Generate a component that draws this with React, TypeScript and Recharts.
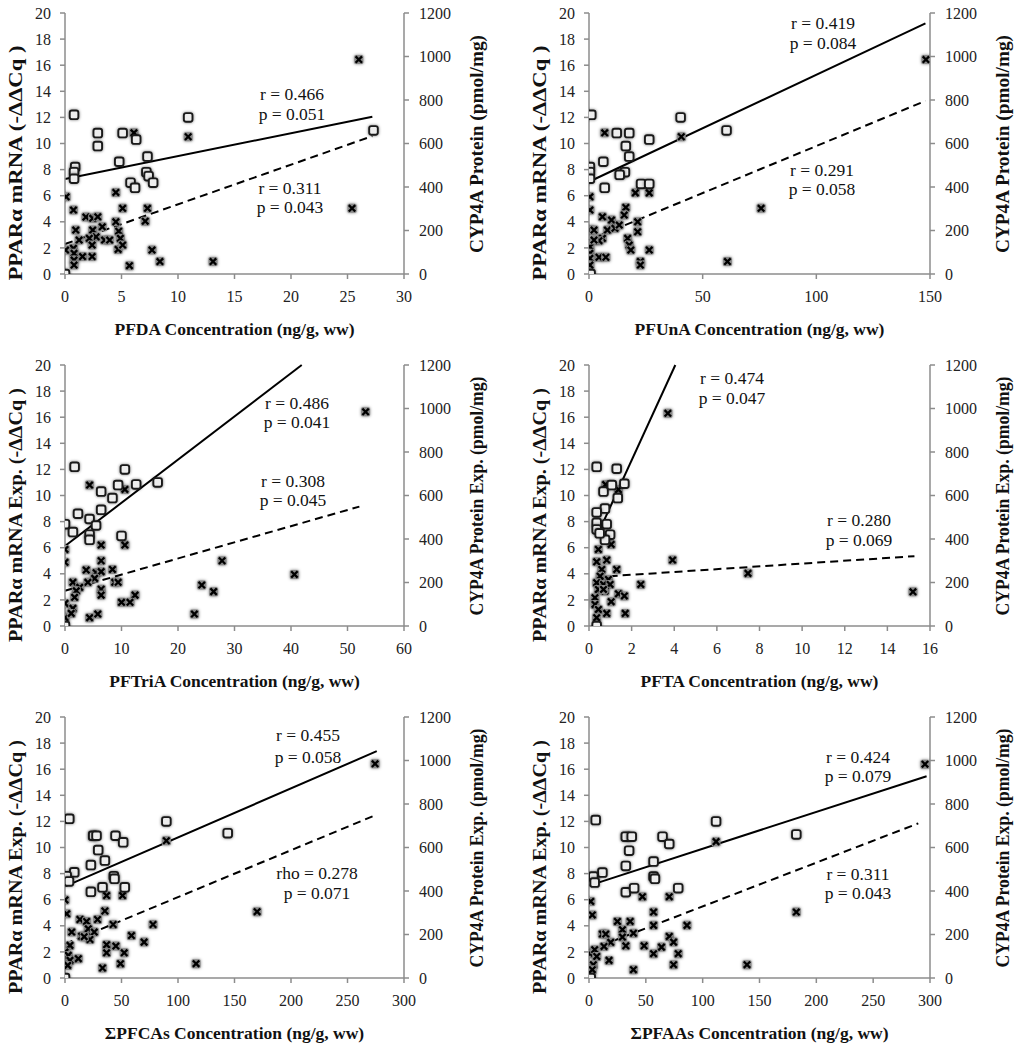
import { ScatterChart, Scatter, XAxis, YAxis, ReferenceLine, Label } from "recharts"

type Pt = [number, number]

// ---- data: [concentration, value] ----
const pfdaMrna: Pt[] = [[0, 0], [0.8, 12.2], [0.9, 8.2], [0.8, 7.8], [0.8, 7.3], [2.9, 10.8], [2.9, 9.8], [5.1, 10.8], [6.3, 10.3], [4.8, 8.6], [7.3, 9.0], [7.2, 7.8], [7.4, 7.5], [5.8, 7.0], [6.2, 6.6], [7.8, 7.0], [10.9, 12.0], [27.3, 11.0]]
const pfdaProtein: Pt[] = [[26.0, 986], [25.4, 302], [10.9, 631], [6.1, 649], [4.5, 375], [5.1, 302], [7.3, 302], [7.1, 243], [0.1, 355], [0.75, 294], [1.85, 262], [2.45, 256], [2.9, 263], [3.3, 217], [0.95, 202], [2.45, 202], [4.5, 240], [4.75, 197], [4.9, 164], [2.75, 171], [3.5, 156], [3.95, 156], [2.15, 164], [1.25, 156], [2.4, 133], [0.75, 118], [0.05, 110], [0.8, 95], [1.55, 80], [2.4, 80], [0.8, 64], [0.8, 41], [4.7, 113], [5.1, 133], [5.7, 38], [7.7, 110], [8.4, 57], [13.1, 57]]
const pfdaMrnaFit: Pt[] = [[0, 7.28], [27.2, 12.05]]
const pfdaProteinFit: Pt[] = [[0, 138], [27.2, 634]]

const pfunaMrna: Pt[] = [[1.0, 12.2], [0.4, 8.2], [0.4, 7.8], [0.4, 7.3], [0.7, 0], [6.3, 8.6], [6.9, 6.6], [12.2, 10.8], [17.7, 10.8], [16.2, 9.8], [17.7, 9.0], [15.8, 7.8], [13.5, 7.6], [22.9, 6.9], [26.5, 6.9], [26.5, 10.3], [40.3, 12.0], [60.5, 11.0]]
const pfunaProtein: Pt[] = [[148.2, 986], [75.7, 302], [60.9, 57], [40.6, 631], [6.9, 649], [13.7, 459], [20.4, 373], [26.5, 373], [0.4, 355], [0.4, 294], [16.2, 306], [15.5, 271], [5.9, 263], [9.9, 248], [21.4, 240], [0.4, 202], [2.2, 202], [8.1, 202], [11.4, 210], [13.3, 225], [21.4, 194], [5.9, 164], [4.4, 153], [17.0, 164], [17.7, 133], [18.4, 110], [26.5, 110], [0.4, 125], [0.4, 95], [4.4, 77], [7.4, 77], [0.4, 72], [0.4, 41], [22.6, 57], [22.6, 41], [2.2, 156]]
const pfunaMrnaFit: Pt[] = [[0, 7.07], [148, 19.2]]
const pfunaProteinFit: Pt[] = [[0, 156], [148, 796]]

const pftriaMrna: Pt[] = [[0, 0], [1.7, 12.2], [10.6, 12.0], [9.4, 10.8], [12.6, 10.85], [16.4, 11.0], [6.4, 10.3], [8.4, 9.8], [6.4, 8.9], [2.3, 8.6], [4.35, 8.2], [0, 7.8], [1.4, 7.2], [5.5, 7.7], [4.35, 7.0], [4.35, 6.6], [10.0, 6.9]]
const pftriaProtein: Pt[] = [[53.2, 985], [27.8, 300], [40.6, 237], [24.2, 188], [26.3, 158], [22.9, 55], [4.35, 648], [10.6, 628], [6.4, 372], [10.6, 372], [0, 352], [0, 293], [6.4, 300], [3.75, 257], [5.5, 245], [6.4, 250], [8.4, 260], [5.25, 219], [1.4, 201], [4.05, 201], [8.8, 201], [9.4, 201], [2.6, 178], [6.4, 169], [2.0, 162], [6.4, 142], [12.4, 142], [1.7, 132], [0, 104], [10.0, 109], [11.5, 109], [1.4, 81], [0, 38], [1.1, 58], [4.35, 38], [5.8, 55]]
const pftriaMrnaFit: Pt[] = [[0, 6.13], [41.9, 20]]
const pftriaProteinFit: Pt[] = [[0, 162], [52.1, 549]]

const pftaMrna: Pt[] = [[0.36, 0], [0.36, 12.2], [1.3, 12.05], [0.68, 10.3], [1.07, 10.8], [1.66, 10.9], [1.35, 9.8], [0.75, 9.0], [0.36, 8.7], [0.36, 7.9], [0.83, 7.8], [0.36, 7.4], [0.99, 7.0], [0.75, 6.6], [0.5, 7.1]]
const pftaProtein: Pt[] = [[3.7, 978], [3.92, 303], [7.46, 242], [15.2, 157], [2.43, 191], [0.78, 650], [1.38, 627], [0.44, 352], [1.04, 375], [0.36, 295], [0.83, 303], [1.3, 260], [0.6, 260], [0.52, 229], [0.91, 214], [0.36, 199], [0.68, 191], [0.99, 191], [0.44, 168], [0.75, 161], [1.38, 148], [1.66, 138], [0.28, 130], [1.04, 112], [0.28, 99], [0.44, 76], [0.83, 58], [1.7, 58], [0.36, 38], [0.68, 168]]
const pftaMrnaFit: Pt[] = [[0.4, 7.0], [4.05, 20]]
const pftaProteinFit: Pt[] = [[0.36, 225], [15.27, 321]]

const pfcasMrna: Pt[] = [[0, 0], [3.8, 12.2], [89.7, 12.0], [144, 11.1], [25, 10.9], [27.9, 10.9], [44.7, 10.9], [51.5, 10.4], [29.4, 9.8], [35.3, 9.0], [22.9, 8.65], [8.2, 8.1], [1.5, 7.8], [3.5, 7.4], [43.2, 7.8], [43.8, 7.6], [22.9, 6.6], [33.2, 6.95], [52.9, 6.95]]
const pfcasProtein: Pt[] = [[274.4, 985], [170, 305], [116, 66], [89.7, 631], [24.4, 653], [36.8, 379], [50.9, 379], [0, 359], [1.5, 295], [35.3, 308], [13.2, 269], [19.1, 260], [28.8, 269], [42.6, 246], [77.9, 246], [5.9, 211], [20.6, 226], [25.9, 211], [14.7, 192], [58.8, 195], [70, 165], [22.1, 177], [4.4, 150], [36.8, 153], [45, 147], [0, 119], [36.8, 116], [52.4, 116], [2.9, 104], [11.8, 89], [4.4, 81], [2.4, 58], [49.1, 66], [33.2, 46], [17, 190]]
const pfcasMrnaFit: Pt[] = [[0, 7.02], [275.9, 17.38]]
const pfcasProteinFit: Pt[] = [[0, 156], [273, 745]]

const pfaasMrna: Pt[] = [[1.5, 0], [5.9, 12.1], [111.8, 12.0], [182.4, 11.0], [32.4, 10.83], [37.6, 10.83], [64.7, 10.83], [70.6, 10.27], [35.3, 9.76], [56.8, 8.92], [32.4, 8.59], [11.8, 8.08], [3.8, 7.77], [5, 7.31], [56.8, 7.77], [58, 7.6], [32.4, 6.57], [39.7, 6.88], [78.5, 6.88]]
const pfaasProtein: Pt[] = [[295.6, 983], [182.4, 303], [139, 61], [111.8, 627], [32.4, 650], [47, 374], [70.6, 374], [1.5, 352], [2.9, 290], [56.8, 303], [25, 260], [36.2, 260], [56.8, 242], [86.2, 242], [11.8, 202], [14.7, 202], [29.4, 222], [39.1, 206], [70.6, 191], [74.4, 165], [29.4, 188], [32.4, 148], [19.1, 164], [48.5, 148], [13.2, 145], [63.8, 142], [0.9, 112], [5, 130], [56.8, 112], [78.5, 112], [6.8, 99], [17.6, 81], [3.8, 61], [39.1, 38], [74.4, 61], [2.9, 38]]
const pfaasMrnaFit: Pt[] = [[0, 7.08], [297, 15.46]]
const pfaasProteinFit: Pt[] = [[0, 128], [289.7, 711]]

const mrnaTicks = [0, 2, 4, 6, 8, 10, 12, 14, 16, 18, 20]
const proteinTicks = [0, 200, 400, 600, 800, 1000, 1200]

const serif = "'Liberation Serif', 'Times New Roman', serif"
const axisGray = '#8c8c8c'

const toObj = (pts: Pt[]) => pts.map(([x, y]) => ({ x, y }))

const SquareMark = (props: any) => {
    const { cx, cy } = props
    if (cx == null || cy == null) return null
    return (
        <rect x={cx - 4.3} y={cy - 4.3} width={8.6} height={8.6} rx={2.2}
            fill="#ededed" stroke="#1a1a1a" strokeWidth={1.9}
            style={{ filter: 'drop-shadow(0 0 1.5px rgba(0,0,0,0.55))' }} />
    )
}

const CrossMark = (props: any) => {
    const { cx, cy } = props
    if (cx == null || cy == null) return null
    return (
        <g style={{ filter: 'drop-shadow(0 0 1.5px rgba(0,0,0,0.5))' }}>
            <rect x={cx - 4.5} y={cy - 4.5} width={9} height={9} rx={1.5} fill="#8a8a8a" />
            <path d={`M${cx - 3.2},${cy - 3.2}L${cx + 3.2},${cy + 3.2}M${cx + 3.2},${cy - 3.2}L${cx - 3.2},${cy + 3.2}`}
                stroke="#000" strokeWidth={2.3} />
        </g>
    )
}

// tick labels drawn by hand so the serif face is certain
const XTick = (props: any) => (
    <text x={props.x} y={props.y} dy="0.71em" textAnchor="middle" fill="#222"
        fontSize={16} fontFamily={serif}>{props.payload.value}</text>
)
const YTick = (props: any) => (
    <text x={props.x} y={props.y} dy="0.35em" textAnchor={props.textAnchor} fill="#222"
        fontSize={16} fontFamily={serif}>{props.payload.value}</text>
)

type Note = { text: string; x: number; y: number }

type PanelProps = {
    left: number
    top: number
    leftAxisW: number
    rightAxisW: number
    xMax: number
    xTicks: number[]
    xTitle: string
    yTitle: string
    yTitleLen: number
    y2Title: string
    y2TitleLen: number
    mrna: Pt[]
    protein: Pt[]
    mrnaFit: Pt[]
    proteinFit: Pt[]
    notes: Note[]
}

const W = 509
const H = 346
const PLOT_TOP = 13
const X_AXIS_H = 72

const Panel = (p: PanelProps) => {
    const plotLeft = p.leftAxisW
    const plotRight = W - p.rightAxisW
    const plotBottom = H - X_AXIS_H
    const titles = () => (
        <g fontFamily={serif} fill="#111">
            <text x={(plotLeft + plotRight) / 2} y={plotBottom + 61} textAnchor="middle"
                fontSize={17.5} fontWeight="bold">{p.xTitle}</text>
            <text transform={`translate(${plotLeft - 49},${PLOT_TOP + 150}) rotate(-90)`} textAnchor="middle"
                dominantBaseline="central" fontSize={18} fontWeight="bold"
                textLength={p.yTitleLen} lengthAdjust="spacingAndGlyphs">{p.yTitle}</text>
            <text transform={`translate(${plotRight + 73},${PLOT_TOP + 131}) rotate(-90)`} textAnchor="middle"
                dominantBaseline="central" fontSize={18} fontWeight="bold"
                textLength={p.y2TitleLen} lengthAdjust="spacingAndGlyphs">{p.y2Title}</text>
            {p.notes.map((n, i) => (
                <text key={i} x={n.x} y={n.y} textAnchor="middle" fontSize={17.5}>{n.text}</text>
            ))}
        </g>
    )
    const line = { stroke: axisGray, strokeWidth: 1.5 }
    return (
        <div style={{ position: 'absolute', left: p.left, top: p.top }}>
            <ScatterChart width={W} height={H} margin={{ top: PLOT_TOP, right: 0, bottom: 0, left: 0 }}>
                <XAxis type="number" dataKey="x" domain={[0, p.xMax]} ticks={p.xTicks} allowDataOverflow
                    height={X_AXIS_H} tick={XTick} tickSize={5} tickMargin={12} axisLine={line} tickLine={line}>
                    <Label content={titles} />
                </XAxis>
                <YAxis yAxisId="mrna" type="number" dataKey="y" domain={[0, 20]} ticks={mrnaTicks} allowDataOverflow
                    width={p.leftAxisW} tick={YTick} tickSize={5} tickMargin={9} axisLine={line} tickLine={line} />
                <YAxis yAxisId="protein" orientation="right" type="number" dataKey="y" domain={[0, 1200]} ticks={proteinTicks}
                    allowDataOverflow width={p.rightAxisW} tick={YTick} tickSize={5} tickMargin={10} axisLine={line} tickLine={line} />
                <Scatter yAxisId="protein" data={toObj(p.protein)} shape={CrossMark} isAnimationActive={false} />
                <Scatter yAxisId="mrna" data={toObj(p.mrna)} shape={SquareMark} isAnimationActive={false} />
                <ReferenceLine yAxisId="mrna" segment={toObj(p.mrnaFit)} stroke="#000" strokeWidth={2} ifOverflow="visible" />
                <ReferenceLine yAxisId="protein" segment={toObj(p.proteinFit)} stroke="#000" strokeWidth={2}
                    strokeDasharray="8 5" ifOverflow="visible" />
            </ScatterChart>
        </div>
    )
}

const topY = 'PPARα mRNA (-ΔΔCq )'
const expY = 'PPARα mRNA Exp. (-ΔΔCq )'
const topY2 = 'CYP4A Protein (pmol/mg)'
const expY2 = 'CYP4A Protein Exp. (pmol/mg)'

export default function App() {
    return (
        <div style={{ position: 'absolute', left: 0, top: 0, width: 1018, height: 1050, overflow: 'hidden', background: '#fff' }}>
            <Panel left={0} top={0} leftAxisW={65} rightAxisW={105} xMax={30} xTicks={[0, 5, 10, 15, 20, 25, 30]}
                xTitle="PFDA Concentration (ng/g, ww)" yTitle={topY} yTitleLen={235} y2Title={topY2} y2TitleLen={218}
                mrna={pfdaMrna} protein={pfdaProtein} mrnaFit={pfdaMrnaFit} proteinFit={pfdaProteinFit}
                notes={[{ text: 'r = 0.466', x: 292, y: 100 }, { text: 'p = 0.051', x: 292, y: 120 },
                { text: 'r = 0.311', x: 290, y: 194 }, { text: 'p = 0.043', x: 290, y: 213 }]} />
            <Panel left={509} top={0} leftAxisW={80} rightAxisW={88} xMax={150} xTicks={[0, 50, 100, 150]}
                xTitle="PFUnA Concentration (ng/g, ww)" yTitle={topY} yTitleLen={235} y2Title={topY2} y2TitleLen={218}
                mrna={pfunaMrna} protein={pfunaProtein} mrnaFit={pfunaMrnaFit} proteinFit={pfunaProteinFit}
                notes={[{ text: 'r = 0.419', x: 314, y: 29 }, { text: 'p = 0.084', x: 314, y: 49 },
                { text: 'r = 0.291', x: 313, y: 176 }, { text: 'p = 0.058', x: 313, y: 195 }]} />
            <Panel left={0} top={352} leftAxisW={65} rightAxisW={105} xMax={60} xTicks={[0, 10, 20, 30, 40, 50, 60]}
                xTitle="PFTriA Concentration (ng/g, ww)" yTitle={expY} yTitleLen={254} y2Title={expY2} y2TitleLen={239}
                mrna={pftriaMrna} protein={pftriaProtein} mrnaFit={pftriaMrnaFit} proteinFit={pftriaProteinFit}
                notes={[{ text: 'r = 0.486', x: 297, y: 57 }, { text: 'p = 0.041', x: 297, y: 76 },
                { text: 'r = 0.308', x: 293, y: 135 }, { text: 'p = 0.045', x: 293, y: 154 }]} />
            <Panel left={509} top={352} leftAxisW={80} rightAxisW={88} xMax={16} xTicks={[0, 2, 4, 6, 8, 10, 12, 14, 16]}
                xTitle="PFTA Concentration (ng/g, ww)" yTitle={expY} yTitleLen={254} y2Title={expY2} y2TitleLen={239}
                mrna={pftaMrna} protein={pftaProtein} mrnaFit={pftaMrnaFit} proteinFit={pftaProteinFit}
                notes={[{ text: 'r = 0.474', x: 223, y: 32 }, { text: 'p = 0.047', x: 223, y: 52 },
                { text: 'r = 0.280', x: 350, y: 174 }, { text: 'p = 0.069', x: 350, y: 194 }]} />
            <Panel left={0} top={704} leftAxisW={65} rightAxisW={105} xMax={300} xTicks={[0, 50, 100, 150, 200, 250, 300]}
                xTitle="ΣPFCAs Concentration (ng/g, ww)" yTitle={expY} yTitleLen={254} y2Title={expY2} y2TitleLen={239}
                mrna={pfcasMrna} protein={pfcasProtein} mrnaFit={pfcasMrnaFit} proteinFit={pfcasProteinFit}
                notes={[{ text: 'r = 0.455', x: 308, y: 37 }, { text: 'p = 0.058', x: 308, y: 59 },
                { text: 'rho = 0.278', x: 317, y: 175 }, { text: 'p = 0.071', x: 317, y: 195 }]} />
            <Panel left={509} top={704} leftAxisW={80} rightAxisW={88} xMax={300} xTicks={[0, 50, 100, 150, 200, 250, 300]}
                xTitle="ΣPFAAs Concentration (ng/g, ww)" yTitle={expY} yTitleLen={254} y2Title={expY2} y2TitleLen={239}
                mrna={pfaasMrna} protein={pfaasProtein} mrnaFit={pfaasMrnaFit} proteinFit={pfaasProteinFit}
                notes={[{ text: 'r = 0.424', x: 349, y: 59 }, { text: 'p = 0.079', x: 349, y: 78 },
                { text: 'r = 0.311', x: 349, y: 176 }, { text: 'p = 0.043', x: 349, y: 195 }]} />
        </div>
    )
}
